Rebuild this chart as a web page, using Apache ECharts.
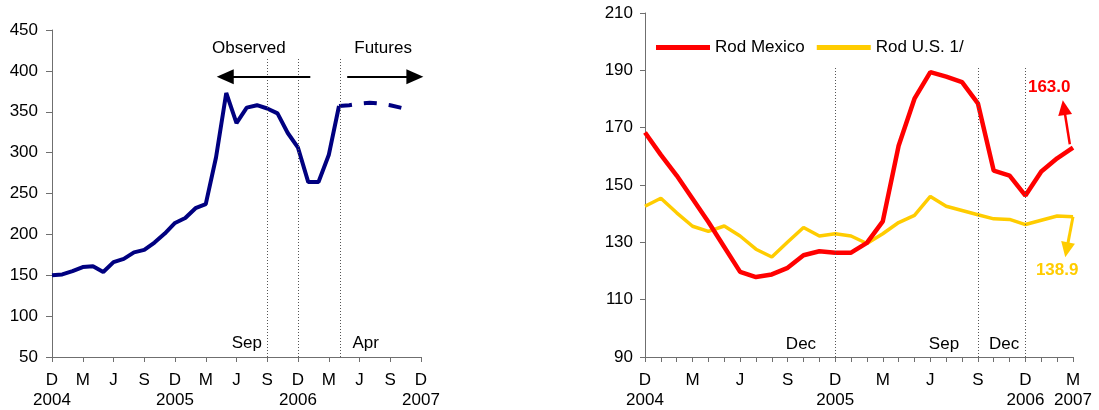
<!DOCTYPE html>
<html>
<head>
<meta charset="utf-8">
<script src="https://cdn.jsdelivr.net/npm/echarts@6/dist/echarts.min.js"></script>
<style>
html,body{margin:0;padding:0;background:#fff;}
#chart{width:1099px;height:410px;}
</style>
</head>
<body>
<div id="chart"></div>
<script>
// ---- Left chart: monthly, Dec 2004 .. Dec 2007 (index 0..36)
const leftTickLabels = ['D\n2004','M','J','S','D\n2005','M','J','S','D\n2006','M','J','S','D\n2007'];
const observedValues = [150,151,155,160,161,154,166,170,178,181,190,201,214,220,232,237,294,373,336,355,358,354,348,324,306,264,264,297,357];
const futuresStart = 28;
const futuresValues = [357,358,360,361,360,358,355,352];
const leftYTicks = [50,450,50]; // min, max, interval

// ---- Right chart: monthly, Dec 2004 .. Mar 2007 (index 0..27)
const rightTickLabels = ['D\n2004','M','J','S','D\n2005','M','J','S','D\n2006','M\n2007'];
const rodMexico = [168.3,160.5,153.3,145.2,137.1,128.4,119.7,117.9,118.8,121.1,125.5,126.9,126.4,126.4,129.8,137.3,163.7,180.1,189.4,187.8,185.9,178.5,155.0,153.3,146.3,154.7,159.3,163.0];
const rodUS = [142.6,145.4,140.3,135.6,133.8,135.7,132.2,127.6,124.9,130.1,135.2,132.2,133.0,132.2,129.6,133.0,136.9,139.4,146.0,142.6,141.1,139.6,138.2,138.0,136.2,137.7,139.2,138.9];
const rightYTicks = [90,210,20];

const FONT = "'Liberation Sans', Arial, sans-serif";
const AXIS = '#6f6f6f';
const NAVY = '#000080', RED = '#FF0000', YELLOW = '#FFCC00';

const chart = echarts.init(document.getElementById('chart'));

function vline(x, y0, y1) {
  return [{coord:[x,y0], symbol:'none'}, {coord:[x,y1], symbol:'none'}];
}
function arrow(from, to, color, width, size) {
  return [{coord:from, symbol:'none', lineStyle:{color:color, width:width, type:'solid'}},
          {coord:to, symbol:'triangle', symbolSize:size, itemStyle:{color:color}, lineStyle:{color:color, width:width, type:'solid'}}];
}
function textPt(coord, text, color, bold) {
  return {coord:coord, symbol:'rect', symbolSize:1, itemStyle:{color:'rgba(0,0,0,0)'},
    label:{show:true, position:'inside', formatter:text, color:color, fontSize:17, fontFamily:FONT, fontWeight: bold ? 'bold' : 'normal'}};
}

const dotted = {color:'#555', width:1, type:[1,2]};

const option = {
  animation: false,
  backgroundColor: '#fff',
  textStyle: {fontFamily: FONT},
  legend: {
    data: ['Rod Mexico', 'Rod U.S. 1/'],
    left: 651, top: 34,
    itemWidth: 54, itemHeight: 14, itemGap: 12,
    icon: 'path://M0,0 L54,0 L54,5 L0,5 Z',
    textStyle: {fontSize: 17, color: '#000', fontFamily: FONT}
  },
  grid: [
    {left: 52, right: 678, top: 30, bottom: 51},
    {left: 645, right: 26, top: 13, bottom: 51}
  ],
  xAxis: [
    {
      type: 'value', gridIndex: 0, min: 0, max: (leftTickLabels.length - 1) * 3, interval: 3,
      axisLine: {lineStyle: {color: AXIS, width: 1}},
      axisTick: {show: true, length: 5, lineStyle: {color: AXIS}},
      splitLine: {show: false},
      axisLabel: {
        color: '#000', fontSize: 17, fontFamily: FONT, margin: 13, lineHeight: 20,
        formatter: v => leftTickLabels[Math.round(v / 3)] || ''
      }
    },
    {
      type: 'value', gridIndex: 1, min: 0, max: rodMexico.length - 1, interval: 1,
      axisLine: {lineStyle: {color: AXIS, width: 1}},
      axisTick: {show: true, length: 5, lineStyle: {color: AXIS}},
      splitLine: {show: false},
      axisLabel: {
        color: '#000', fontSize: 17, fontFamily: FONT, margin: 13, lineHeight: 20,
        formatter: v => (v % 3 === 0 ? (rightTickLabels[v / 3] || '') : '')
      }
    }
  ],
  yAxis: [
    {
      type: 'value', gridIndex: 0, min: leftYTicks[0], max: leftYTicks[1], interval: leftYTicks[2],
      axisLine: {show: true, lineStyle: {color: AXIS, width: 1}},
      axisTick: {show: true, length: 6, lineStyle: {color: AXIS}},
      splitLine: {show: false},
      axisLabel: {color: '#000', fontSize: 17, fontFamily: FONT, margin: 14}
    },
    {
      type: 'value', gridIndex: 1, min: rightYTicks[0], max: rightYTicks[1], interval: rightYTicks[2],
      axisLine: {show: true, lineStyle: {color: AXIS, width: 1}},
      axisTick: {show: true, length: 5, lineStyle: {color: AXIS}},
      splitLine: {show: false},
      axisLabel: {color: '#000', fontSize: 17, fontFamily: FONT, margin: 12}
    }
  ],
  series: [
    {
      name: 'Observed', type: 'line', xAxisIndex: 0, yAxisIndex: 0,
      data: observedValues.map((v, i) => [i, v]),
      symbol: 'none', lineStyle: {color: NAVY, width: 4}, itemStyle: {color: NAVY},
      z: 3,
      markLine: {
        silent: true, animation: false, label: {show: false}, symbol: ['none', 'none'],
        lineStyle: dotted,
        data: [
          vline(21, 50, 416), vline(24, 50, 416), vline(28.1, 50, 416),
          arrow([25.2, 392.9], [16.9, 392.9], '#000', 2, [15, 17]),
          arrow([28.8, 392.9], [35.4, 392.9], '#000', 2, [15, 17])
        ]
      },
      markPoint: {
        silent: true, animation: false,
        data: [
          textPt([19.2, 428], 'Observed', '#000', false),
          textPt([32.3, 428], 'Futures', '#000', false),
          textPt([19.0, 67], 'Sep', '#000', false),
          textPt([30.6, 67], 'Apr', '#000', false)
        ]
      }
    },
    {
      name: 'Futures', type: 'line', xAxisIndex: 0, yAxisIndex: 0,
      data: futuresValues.map((v, i) => [i + futuresStart, v]),
      symbol: 'none', lineStyle: {color: NAVY, width: 4, type: [13, 12]}, itemStyle: {color: NAVY},
      z: 3
    },
    {
      name: 'Rod U.S. 1/', type: 'line', xAxisIndex: 1, yAxisIndex: 1,
      data: rodUS.map((v, i) => [i, v]),
      symbol: 'none', lineStyle: {color: YELLOW, width: 3.5}, itemStyle: {color: YELLOW},
      z: 3,
      markLine: {
        silent: true, animation: false, label: {show: false}, symbol: ['none', 'none'],
        data: [
          arrow([27, 138.9], [26.6, 127.4], YELLOW, 3, [14, 15])
        ]
      },
      markPoint: {
        silent: true, animation: false,
        data: [ textPt([26.0, 120.2], '138.9', YELLOW, true) ]
      }
    },
    {
      name: 'Rod Mexico', type: 'line', xAxisIndex: 1, yAxisIndex: 1,
      data: rodMexico.map((v, i) => [i, v]),
      symbol: 'none', lineStyle: {color: RED, width: 4.5}, itemStyle: {color: RED},
      z: 4,
      markLine: {
        silent: true, animation: false, label: {show: false}, symbol: ['none', 'none'],
        lineStyle: dotted,
        data: [
          vline(12, 90, 191.3), vline(21, 90, 191.3), vline(24, 90, 191.3),
          arrow([26.8, 164.2], [26.43, 177.0], RED, 2.5, [14, 15])
        ]
      },
      markPoint: {
        silent: true, animation: false,
        data: [
          textPt([25.5, 184], '163.0', RED, true),
          textPt([9.84, 94.5], 'Dec', '#000', false),
          textPt([18.86, 94.5], 'Sep', '#000', false),
          textPt([22.65, 94.5], 'Dec', '#000', false)
        ]
      }
    }
  ]
};
chart.setOption(option);
</script>
</body>
</html>
